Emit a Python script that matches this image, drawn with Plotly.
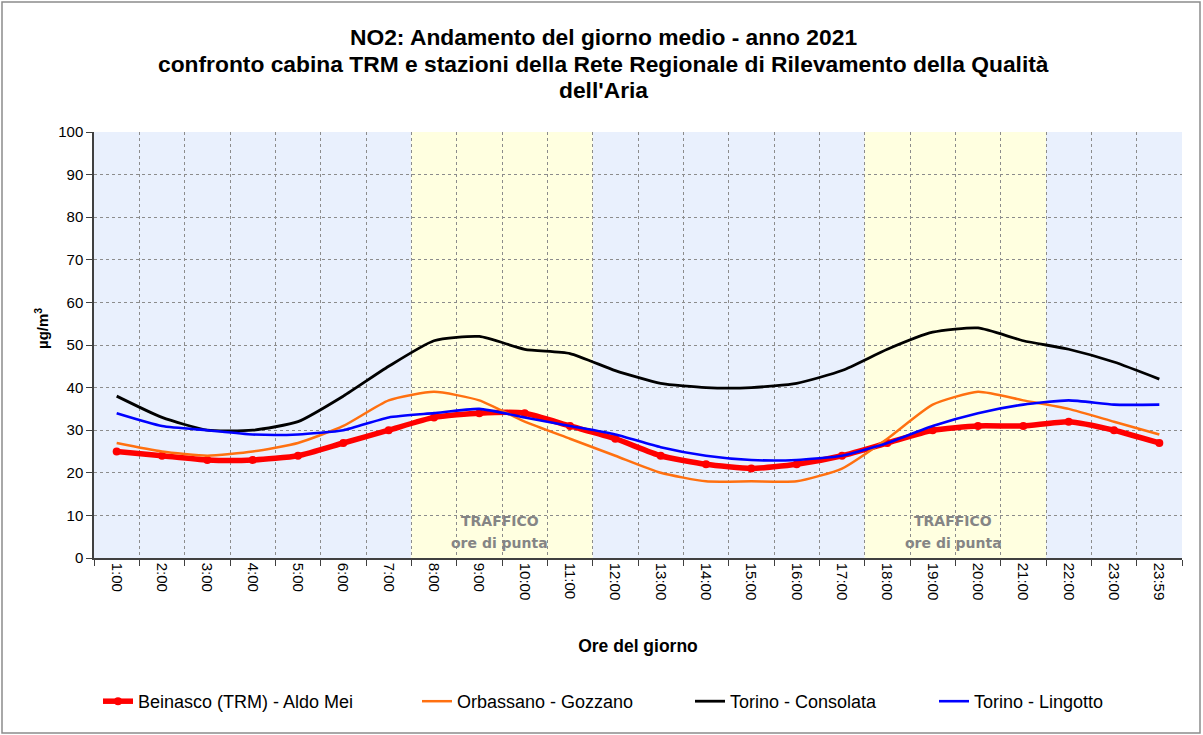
import plotly.graph_objects as go

hours = ["1:00", "2:00", "3:00", "4:00", "5:00", "6:00", "7:00", "8:00", "9:00", "10:00",
         "11:00", "12:00", "13:00", "14:00", "15:00", "16:00", "17:00", "18:00", "19:00",
         "20:00", "21:00", "22:00", "23:00", "23:59"]

beinasco = [25, 24, 23, 23, 24, 27, 30, 33, 34, 34, 31, 28, 24, 22, 21, 22, 24, 27, 30, 31, 31, 32, 30, 27]
orbassano = [27, 25, 24, 25, 27, 31, 37, 39, 37, 32, 28, 24, 20, 18, 18, 18, 21, 28, 36, 39, 37, 35, 32, 29]
consolata = [38, 33, 30, 30, 32, 38, 45, 51, 52, 49, 48, 44, 41, 40, 40, 41, 44, 49, 53, 54, 51, 49, 46, 42]
lingotto = [34, 31, 30, 29, 29, 30, 33, 34, 35, 33, 31, 29, 26, 24, 23, 23, 24, 27, 31, 34, 36, 37, 36, 36]

series_names = ["Beinasco (TRM) - Aldo Mei", "Orbassano - Gozzano", "Torino - Consolata", "Torino - Lingotto"]
title_lines = ["NO2: Andamento del giorno medio - anno 2021",
               "confronto cabina TRM e stazioni della Rete Regionale di Rilevamento della Qualità",
               "dell'Aria"]

# traffic peak bands (category index ranges)
traffic_bands = [(6.5, 10.5), (16.5, 20.5)]
other_bands = [(-0.5, 6.5), (10.5, 16.5), (20.5, 23.5)]

FONT = "Liberation Sans, Arial, sans-serif"
BLUE_BG = "#E9F0FD"
YELLOW_BG = "#FFFFE0"

fig = go.Figure()

legends = ["legend2", "legend3", "legend4", "legend5"]
styles = [
    dict(color="#FF0000", width=5.5),
    dict(color="#FF7010", width=2.5),
    dict(color="#000000", width=2.8),
    dict(color="#0000FF", width=2.6),
]
data = [beinasco, orbassano, consolata, lingotto]
for i, (name, vals, st) in enumerate(zip(series_names, data, styles)):
    kw = {}
    if i == 0:
        mode = "lines+markers"
        kw["marker"] = dict(size=8, color="#FF0000", symbol="circle")
    else:
        mode = "lines"
    fig.add_trace(go.Scatter(
        x=list(range(len(hours))), y=vals, name=name, mode=mode,
        line=dict(color=st["color"], width=st["width"], shape="spline", smoothing=0.55),
        legend=legends[i], showlegend=True, **kw))

shapes = []
for a, b in other_bands:
    shapes.append(dict(type="rect", xref="x", yref="y", x0=a, x1=b, y0=0, y1=100,
                       fillcolor=BLUE_BG, line=dict(width=0), layer="below"))
for a, b in traffic_bands:
    shapes.append(dict(type="rect", xref="x", yref="y", x0=a, x1=b, y0=0, y1=100,
                       fillcolor=YELLOW_BG, line=dict(width=0), layer="below"))

# layout geometry in page pixels
L, T, W, H = 94, 132, 1088, 426
def px2x(p):
    return (p - L) / W
def px2y(p):
    return 1 - (p - T) / H

# outer chart border
shapes.append(dict(type="rect", xref="paper", yref="paper",
                   x0=px2x(2), x1=px2x(1200), y0=px2y(733), y1=px2y(2),
                   line=dict(color="#8C8C8C", width=1.5), fillcolor="rgba(0,0,0,0)"))

annotations = []
for line, yp in zip(title_lines, [37, 64, 90]):
    annotations.append(dict(x=px2x(603), y=px2y(yp), xref="paper", yref="paper",
                            text="<b>" + line + "</b>", showarrow=False,
                            xanchor="center", yanchor="middle",
                            font=dict(family=FONT, size=22.8, color="#000")))
for a, b in traffic_bands:
    c = (a + b) / 2
    annotations.append(dict(x=c - 0.05, y=px2y(521), xref="x", yref="paper", text="<b>TRAFFICO</b>",
                            showarrow=False, yanchor="middle",
                            font=dict(family="DejaVu Sans, sans-serif", size=14, color="#858585")))
    annotations.append(dict(x=c - 0.05, y=px2y(543), xref="x", yref="paper", text="<b>ore di punta</b>",
                            showarrow=False, yanchor="middle",
                            font=dict(family="DejaVu Sans, sans-serif", size=14, color="#858585")))
# y axis title
annotations.append(dict(x=px2x(41), y=px2y(329), xref="paper", yref="paper",
                        text="<b>µg/m<sup>3</sup></b>", showarrow=False, textangle=-90,
                        xanchor="center", yanchor="middle",
                        font=dict(family=FONT, size=15, color="#000")))

legend_x_px = [98, 417, 690, 934]
leg_layout = {}
for lg, xp in zip(legends, legend_x_px):
    leg_layout[lg] = dict(x=px2x(xp), y=px2y(683), xanchor="left", yanchor="top",
                          xref="paper", yref="paper", bgcolor="rgba(0,0,0,0)",
                          font=dict(family=FONT, size=18, color="#000"),
                          itemwidth=30, orientation="h", visible=True)

fig.update_layout(
    width=1203, height=735,
    margin=dict(l=L, r=1203 - L - W, t=T, b=735 - T - H),
    paper_bgcolor="white", plot_bgcolor="white",
    font=dict(family=FONT, color="#000"),
    showlegend=True,
    shapes=shapes, annotations=annotations,
    **leg_layout,
)

fig.update_xaxes(
    type="linear", range=[-0.5, 23.5],
    tickmode="array", tickvals=list(range(len(hours))), ticktext=hours,
    tickangle=90, tickfont=dict(family=FONT, size=15, color="#000"),
    showgrid=False, showline=True, linecolor="#404040", linewidth=1.5,
    ticks="", zeroline=False,
    title=dict(text="<b>Ore del giorno</b>", font=dict(family=FONT, size=17.5, color="#000"), standoff=40),
)
# boundary gridlines via minor ticks
fig.update_xaxes(minor=dict(tickmode="array", tickvals=[i + 0.5 for i in range(-1, 24)],
                            showgrid=True, gridcolor="#8C8C8C", griddash="dot", gridwidth=1,
                            ticks="outside", ticklen=6, tickcolor="#404040"))

fig.update_yaxes(
    range=[0, 100], dtick=10, tick0=0,
    tickfont=dict(family=FONT, size=15, color="#000"),
    showgrid=True, gridcolor="#8C8C8C", griddash="dot", gridwidth=1,
    showline=True, linecolor="#404040", linewidth=1.5,
    ticks="outside", ticklen=6, tickcolor="#404040", zeroline=False,
)

fig.write_html("out.html", config={"displayModeBar": False},
               post_script="document.body.style.margin='0';")
